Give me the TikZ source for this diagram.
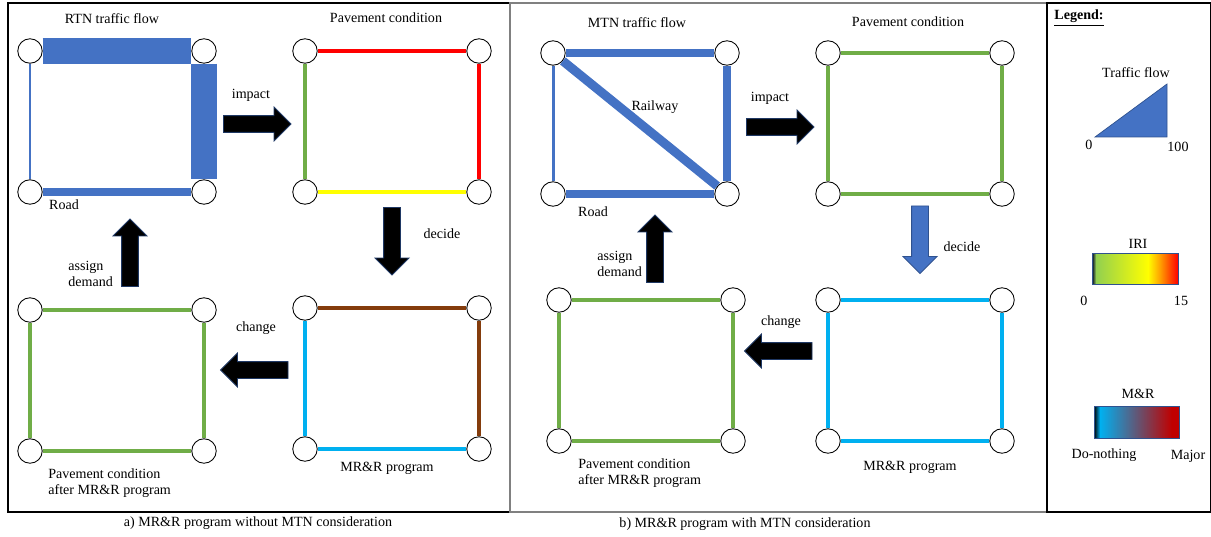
\documentclass[tikz,border=0pt]{standalone}
\usepackage{fontspec}
\setmainfont{Liberation Serif}
\usetikzlibrary{shapes.arrows}
\definecolor{flowblue}{HTML}{4472C4}
\definecolor{flowedge}{HTML}{2F528F}
\definecolor{arrowedge}{HTML}{1F3864}
\definecolor{iriGreen}{HTML}{70AD47}
\definecolor{iriLight}{HTML}{92D050}
\definecolor{iriYellow}{HTML}{FFFF00}
\definecolor{iriOrange}{HTML}{FFA000}
\definecolor{iriRed}{HTML}{FF0000}
\definecolor{mrCyan}{HTML}{00B0F0}
\definecolor{mrBrown}{HTML}{843C0C}
\definecolor{mrRed}{HTML}{C00000}

\begin{document}
\begin{tikzpicture}[x=0.02cm, y=-0.02cm,
  junc/.style={circle, draw, fill=white, minimum size=0.49cm, inner sep=0pt, line width=0.5pt},
  flow/.style={draw=flowblue},
  cond/.style={line width=1.8pt},
  lbl/.style={font=\fontsize{8}{9.2}\selectfont, inner sep=0pt},
  blockarrow/.style={single arrow, draw=arrowedge, fill=black, line width=0.5pt,
    inner xsep=0pt, inner ysep=0.16cm, minimum height=1.35cm, single arrow head extend=0.17cm},
  panel/.style={line width=0.6pt}]

\useasboundingbox (0,0) rectangle (1211,537);

% panels
\draw[panel] (8,3) rectangle (510,512);
\draw[panel, draw=black!50] (510,3) rectangle (1047,512);
\draw[panel] (1047,3) rectangle (1210.5,512);

% the eight small networks
\foreach \g/\x/\y in {at/30/51, ap/305/51, am/305/308, ad/30/310, bt/553/53, bp/828/53, bm/828/300, bd/559/300}{
  \node[junc] (\g1) at (\x,\y) {};
  \node[junc] (\g2) at (\x+174,\y) {};
  \node[junc] (\g3) at (\x,\y+141) {};
  \node[junc] (\g4) at (\x+174,\y+141) {};
}

% a) without MTN
\draw[flow, line width=0.52cm] (at1) -- (at2);
\draw[flow, line width=0.54cm] (at2) -- (at4);
\draw[flow, line width=0.18cm] (at3) -- (at4);
\draw[flow, line width=0.06cm] (at1) -- (at3);
\draw[cond, iriRed] (ap1) -- (ap2) -- (ap4);
\draw[cond, iriYellow] (ap3) -- (ap4);
\draw[cond, iriGreen] (ap1) -- (ap3);
\draw[cond, mrBrown] (am1) -- (am2) -- (am4);
\draw[cond, mrCyan] (am1) -- (am3) -- (am4);
\draw[cond, iriGreen] (ad1) -- (ad2) -- (ad4) -- (ad3) -- (ad1);

% b) with MTN
\draw[flow, line width=0.17cm] (bt1) -- (bt2) -- (bt4) -- (bt3);
\draw[flow, line width=0.18cm] (bt1) -- (bt4);
\draw[flow, line width=0.06cm] (bt1) -- (bt3);
\draw[cond, iriGreen] (bp1) -- (bp2) -- (bp4) -- (bp3) -- (bp1);
\draw[cond, mrCyan] (bm1) -- (bm2) -- (bm4) -- (bm3) -- (bm1);
\draw[cond, iriGreen] (bd1) -- (bd2) -- (bd4) -- (bd3) -- (bd1);

% block arrows
\node[blockarrow] (impA) at (253,124) {};
\node[blockarrow, rotate=-90] (decA) at (392,237) {};
\node[blockarrow, rotate=180] (chgA) at (258.5,370) {};
\node[blockarrow, rotate=90] (asgA) at (130,257) {};
\node[blockarrow] (impB) at (776,127) {};
\node[blockarrow, rotate=-90, fill=flowblue, draw=flowedge] (decB) at (920,235.5) {};
\node[blockarrow, rotate=180] (chgB) at (782.5,351) {};
\node[blockarrow, rotate=90] (asgB) at (655,253) {};

% labels a)
\node[lbl] (tflowA) at (112,19) {RTN traffic flow};
\node[lbl] (roadA) at (64,205) {Road};
\node[lbl] (impLA) at (251,95) {impact};
\node[lbl] (paveA) at (386,18) {Pavement condition};
\node[lbl] (decLA) at (442,234) {decide};
\node[lbl] (progA) at (387,468) {MR\&R program};
\node[lbl] (chgLA) at (256,328) {change};
\node[lbl, align=left, anchor=west] (asgLA) at (68,274) {assign\\demand};
\node[lbl, align=left, anchor=west] (afterA) at (48,483) {Pavement condition\\after MR\&R program};
\node[lbl] (capA) at (258,523) {a) MR\&R program without MTN consideration};

% labels b)
\node[lbl] (tflowB) at (637,23) {MTN traffic flow};
\node[lbl] (railB) at (655,107) {Railway};
\node[lbl] (roadB) at (593,212) {Road};
\node[lbl] (impLB) at (770,98) {impact};
\node[lbl] (paveB) at (908,22) {Pavement condition};
\node[lbl] (decLB) at (962,247) {decide};
\node[lbl] (progB) at (910,467) {MR\&R program};
\node[lbl] (chgLB) at (781,322) {change};
\node[lbl, align=left, anchor=west] (asgLB) at (597,264) {assign\\demand};
\node[lbl, align=left, anchor=west] (afterB) at (578,473) {Pavement condition\\after MR\&R program};
\node[lbl] (capB) at (745,524) {b) MR\&R program with MTN consideration};

% legend
\node[lbl] (legend) at (1079,18) {\underline{\textbf{Legend:}}};
\node[lbl] (tfLeg) at (1136,73) {Traffic flow};
\filldraw[fill=flowblue, draw=flowedge, line width=0.4pt] (1095,137) -- (1167,137) -- (1167,84) -- cycle;
\node[lbl] (tfMin) at (1089,145) {0};
\node[lbl] (tfMax) at (1178,147) {100};

\node[lbl] (iriLeg) at (1138,244) {IRI};
\shade[left color=black!85!blue, right color=iriLight] (1092,253) rectangle (1096,284);
\shade[left color=iriLight, right color=iriYellow] (1096,253) rectangle (1148,284);
\shade[left color=iriYellow, right color=iriOrange] (1148,253) rectangle (1160,284);
\shade[left color=iriOrange, right color=iriRed] (1160,253) rectangle (1178,284);
\draw[flowedge, line width=0.4pt] (1092,253) rectangle (1178,284);
\node[lbl] (iriMin) at (1084,301) {0};
\node[lbl] (iriMax) at (1181,301) {15};

\node[lbl] (mrLeg) at (1138,394) {M\&R};
\shade[left color=black, right color=mrCyan] (1094,406) rectangle (1100,438);
\shade[left color=mrCyan, right color=mrRed] (1100,406) rectangle (1172,438);
\fill[mrRed] (1172,406) rectangle (1179,438);
\draw[flowedge, line width=0.4pt] (1094,406) rectangle (1179,438);
\node[lbl] (mrMin) at (1104,455) {Do-nothing};
\node[lbl] (mrMax) at (1188,456) {Major};
\end{tikzpicture}
\end{document}
